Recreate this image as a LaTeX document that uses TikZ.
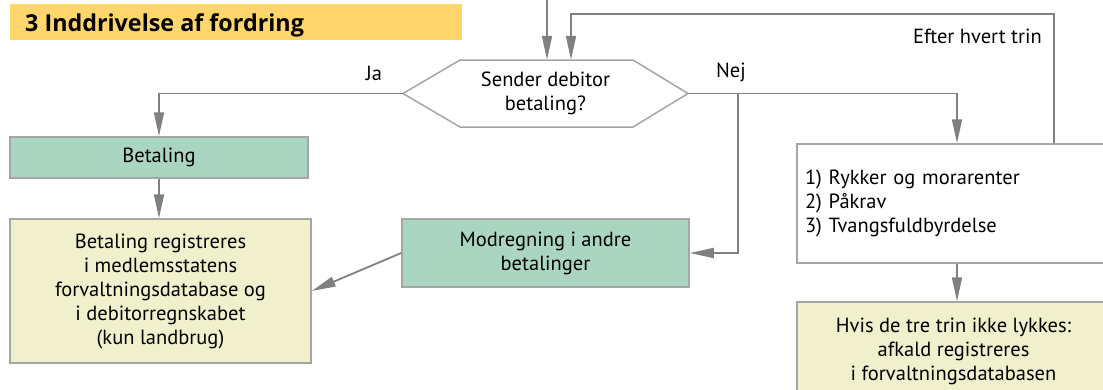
\documentclass[tikz,border=0pt]{standalone}
\usepackage{fontspec}
\setmainfont{PT Sans}
\newfontfamily\titlefont{Open Sans}
\usetikzlibrary{arrows.meta}
\definecolor{ttl}{HTML}{FFD66B}
\definecolor{grn}{HTML}{AAD5C0}
\definecolor{pale}{HTML}{F0F0CC}
\definecolor{ln}{HTML}{808080}
\definecolor{bd}{HTML}{A5A5A5}
\begin{document}
\begin{tikzpicture}[x=1pt,y=-1pt,
  conn/.style={draw=ln, line width=1.8pt, -{Triangle[length=24pt,width=10pt]}},
  box/.style={draw=bd, line width=1.5pt, inner sep=0pt, align=center,
    font=\fontsize{20.5}{24}\selectfont},
  lbl/.style={font=\fontsize{20.5}{24}\selectfont, inner sep=0pt},
  ]
\useasboundingbox (0,0) rectangle (1103,389);
% title
\fill[ttl] (10,4) rectangle (462,40);
\node[anchor=base west, font=\titlefont\bfseries\fontsize{23.3}{26}\selectfont, inner sep=0pt] (title) at (25,31) {3 Inddrivelse af fordring};
% decision hexagon
\node[lbl, align=center, minimum width=285pt, minimum height=67pt] (hex) at (545.5,93.5) {};
\draw[draw=bd, line width=1.5pt, fill=white] (403,93.5) -- (460,60) -- (633,60) -- (688,93.5) -- (633,127) -- (460,127) -- cycle;
\node[lbl, align=center] (hextext) at (hex) {Sender debitor\\betaling?};
% boxes
\node[box, fill=grn, minimum width=298pt, minimum height=41pt] (bet) at (159,157.5) {Betaling};
\node[box, fill=pale, minimum width=301pt, minimum height=144pt] (reg) at (160.5,291)
  {Betaling registreres\\i medlemsstatens\\forvaltningsdatabase og\\i debitorregnskabet\\(kun landbrug)};
\node[box, fill=grn, minimum width=287pt, minimum height=68pt] (mod) at (545.5,253) {Modregning i andre\\betalinger};
\node[box, fill=white, align=left, text width=297pt, inner xsep=8pt, minimum height=119pt] (steps) at (953.5,203.5)
  {1) Rykker og morarenter\\2) Påkrav\\3) Tvangsfuldbyrdelse};
\node[box, fill=pale, minimum width=313pt, minimum height=98pt] (fail) at (953.5,351)
  {Hvis de tre trin ikke lykkes:\\afkald registreres\\i forvaltningsdatabasen};
% labels
\node[lbl] (ja) at (374,73) {Ja};
\node[lbl] (nej) at (731,72) {Nej};
\node[lbl, anchor=east] (efter) at (1042,36) {Efter hvert trin};
% coordinates
\coordinate (in1) at (547,-2);
\coordinate (lpa) at (1054,14);
\coordinate (lpb) at (571,14);
\coordinate (nj) at (957,93.5);
\coordinate (br) at (738,93.5);
% connectors
\draw[conn] (in1) -- (in1 |- hex.north);
\draw[conn] (lpa |- steps.north) -- (lpa) -- (lpb) -- (lpb |- hex.north);
\draw[conn] (hex.west) -| (bet.north);
\draw[conn] (bet.south) -- (bet.south |- reg.north);
\draw[conn] (hex.east) -- (nj) -- (nj |- steps.north);
\draw[conn] (br) |- (mod.east);
\draw[conn] (nj |- steps.south) -- (nj |- fail.north);
\draw[conn] (mod.west) -- (reg.east);
\end{tikzpicture}
\end{document}
